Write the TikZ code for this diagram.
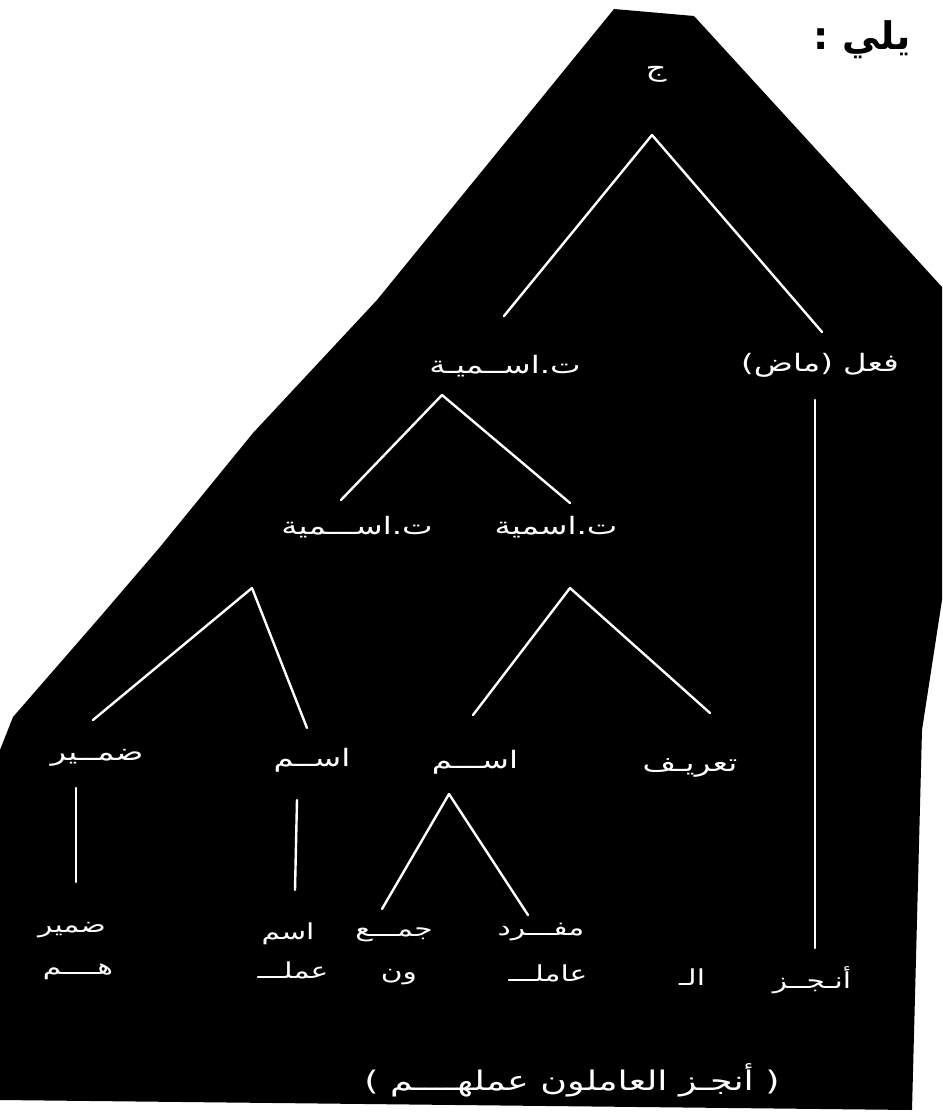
\documentclass[tikz,border=0pt]{standalone}
\usepackage{fontspec}
\newfontfamily\arabicfont[Script=Arabic]{DejaVu Sans}
\newfontfamily\arabicwide[Script=Arabic,FakeStretch=1.35]{DejaVu Sans}
\TeXXeTstate=1

\begin{document}
\begin{tikzpicture}[x=1pt, y=-1pt,
  lbl/.style={text=white, inner sep=0pt, font=\arabicwide\fontsize{24}{28}\selectfont},
  leaf/.style={lbl, font=\arabicwide\fontsize{22}{26}\selectfont},
  branch/.style={white, line width=2.4pt, line cap=round},
]
\useasboundingbox (0,0) rectangle (942,1113);

% scanned black page
\fill[black] (614,9) -- (694,16) -- (942,287) -- (942,600) -- (922,730) -- (912,1110)
  -- (0,1100) -- (0,750) -- (13,717) -- (100,617) -- (160,547) -- (253,433) -- (377,300) -- cycle;

\node[inner sep=0pt, font=\arabicfont\bfseries\fontsize{38}{44}\selectfont] (yali) at (862,40) {\beginR يلي :\endR};

% tree labels
\node[lbl] (jim) at (656,74) {\beginR ج\endR};
\node[lbl] (ti1) at (505,366) {\beginR ت.اســميـة\endR};
\node[lbl] (fi) at (820,365) {\beginR فعل (ماض)\endR};
\node[lbl] (ti2l) at (357,527) {\beginR ت.اســـمية\endR};
\node[lbl] (ti2r) at (556,527) {\beginR ت.اسمية\endR};
\node[lbl] (dam3) at (97,758) {\beginR ضمــير\endR};
\node[lbl] (ism3a) at (312,760) {\beginR اســم\endR};
\node[lbl] (ism3b) at (475,762) {\beginR اســـم\endR};
\node[lbl] (tarif) at (690,768) {\beginR تعريـف\endR};

% leaves
\node[leaf] (dam4) at (72,930) {\beginR ضمير\endR};
\node[leaf] (hum) at (78,972) {\beginR هــــم\endR};
\node[leaf] (ism4) at (288,934) {\beginR اسم\endR};
\node[leaf] (amal) at (293,970) {\beginR عملـــ\endR};
\node[leaf] (jam) at (394,935) {\beginR جمـــع\endR};
\node[leaf] (wn) at (399,977) {\beginR ون\endR};
\node[leaf] (mufrad) at (541,932) {\beginR مفـــرد\endR};
\node[leaf] (amil) at (548,973) {\beginR عاملـــ\endR};
\node[leaf] (al) at (692,977) {\beginR الـ\endR};
\node[leaf] (anjaz) at (812,980) {\beginR أنـجــز\endR};

\node[leaf, font=\arabicwide\fontsize{27}{32}\selectfont] (jumla) at (572,1080) {\beginR (\ أنجـز العاملون عملهــــم\ )\endR};

% branches
\draw[branch] ([xshift=-4pt,yshift=-61pt]jim.center) -- ([xshift=-1pt,yshift=50pt]ti1.center);
\draw[branch] ([xshift=-4pt,yshift=-61pt]jim.center) -- ([xshift=2pt,yshift=33pt]fi.center);
\draw[branch] ([xshift=-63pt,yshift=-29pt]ti1.center) -- ([xshift=-16pt,yshift=27pt]ti2l.center);
\draw[branch] ([xshift=-63pt,yshift=-29pt]ti1.center) -- ([xshift=14pt,yshift=24pt]ti2r.center);
\draw[branch] ([xshift=-105pt,yshift=-61pt]ti2l.center) -- ([xshift=-4pt,yshift=38pt]dam3.center);
\draw[branch] ([xshift=-105pt,yshift=-61pt]ti2l.center) -- ([xshift=-5pt,yshift=32pt]ism3a.center);
\draw[branch] ([xshift=14pt,yshift=-61pt]ti2r.center) -- ([xshift=-2pt,yshift=47pt]ism3b.center);
\draw[branch] ([xshift=14pt,yshift=-61pt]ti2r.center) -- ([xshift=20pt,yshift=55pt]tarif.center);
\draw[branch] ([xshift=-21pt,yshift=-30pt]dam3.center) -- ([xshift=4pt,yshift=48pt]dam4.center);
\draw[branch] ([xshift=-15pt,yshift=-40pt]ism3a.center) -- ([xshift=7pt,yshift=44pt]ism4.center);
\draw[branch] ([xshift=-26pt,yshift=-32pt]ism3b.center) -- ([xshift=-12pt,yshift=26pt]jam.center);
\draw[branch] ([xshift=-26pt,yshift=-32pt]ism3b.center) -- ([xshift=-13pt,yshift=17pt]mufrad.center);
\draw[branch] ([xshift=-5pt,yshift=-35pt]fi.center) -- ([xshift=3pt,yshift=32pt]anjaz.center);

\end{tikzpicture}
\end{document}
